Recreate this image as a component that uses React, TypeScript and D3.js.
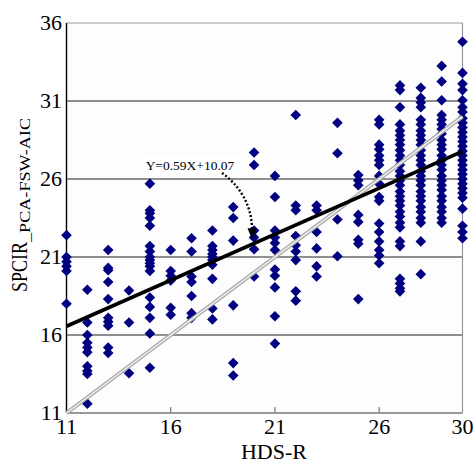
import React, { useRef, useEffect } from "react";
import * as d3 from "d3";

// HDS-R scores (x) and the SPCIR values read for each score
const hdsR = [11, 12, 13, 14, 15, 16, 17, 18, 19, 20, 21, 22, 23, 24, 25, 26, 27, 28, 29, 30];
const spcir = [
  [22.4, 21.0, 20.7, 20.4, 20.1, 18.0],
  [18.9, 16.8, 16.0, 15.5, 15.2, 14.9, 14.0, 13.7, 13.5, 11.6],
  [21.45, 20.3, 20.15, 19.4, 18.3, 17.1, 16.85, 16.6, 15.2, 14.85],
  [18.85, 16.8, 13.55],
  [25.7, 24.0, 23.8, 23.5, 23.0, 21.7, 21.35, 21.0, 20.8, 20.6, 20.4, 20.1, 18.4, 17.8, 17.1, 16.1, 13.9],
  [21.45, 20.1, 19.8, 19.5, 17.75, 17.3],
  [22.2, 21.35, 19.75, 19.4, 18.5, 17.4, 17.1],
  [22.7, 21.7, 21.45, 21.2, 21.0, 20.8, 20.5, 19.6, 17.7, 17.0],
  [24.2, 23.5, 22.05, 17.9, 14.2, 13.4],
  [27.7, 26.9, 22.7, 22.25, 21.5, 19.75],
  [26.2, 24.85, 22.7, 22.25, 21.9, 21.45, 20.2, 19.8, 19.05, 17.2, 15.45],
  [30.1, 24.3, 24.0, 22.35, 21.75, 21.35, 20.8, 18.8, 18.2],
  [24.3, 24.0, 22.6, 21.55, 20.4, 19.75],
  [29.6, 27.65, 23.4, 21.05],
  [26.25, 25.9, 25.6, 23.7, 23.25, 22.1, 21.85, 18.3],
  [29.8, 29.5, 28.2, 27.9, 27.5, 27.2, 26.9, 26.2, 25.7, 24.85, 24.6, 23.15, 22.6, 22.0, 21.45, 21.1, 20.6],
  [32.0, 31.7, 30.6, 29.5, 29.1, 28.8, 28.5, 28.2, 27.85, 27.5, 27.2, 26.9, 26.5, 26.2, 25.9, 25.6, 25.2, 24.9, 24.6, 24.3, 23.9, 23.6, 23.2, 22.9, 22.0, 21.7, 19.6, 19.3, 19.0, 18.8],
  [31.85, 31.2, 30.9, 30.6, 29.8, 29.5, 29.1, 28.8, 28.5, 28.2, 27.85, 27.5, 27.2, 26.9, 26.5, 26.2, 25.9, 25.6, 25.2, 24.9, 24.6, 24.2, 23.9, 23.5, 23.2, 22.0, 19.9],
  [33.25, 32.25, 31.05, 30.1, 29.8, 29.5, 29.2, 28.9, 28.5, 28.2, 27.9, 27.5, 27.2, 26.9, 26.6, 26.2, 25.9, 25.6, 25.3, 24.9, 24.6, 24.2, 23.9, 23.5, 23.2],
  [34.8, 32.8, 32.1, 31.7, 31.05, 30.6, 30.3, 29.9, 29.6, 29.3, 29.0, 28.7, 28.4, 28.1, 27.8, 27.5, 27.2, 26.9, 26.6, 26.3, 26.0, 25.7, 25.4, 25.1, 24.8, 24.1, 23.0, 22.6, 22.2],
];

const xTicks = [11, 16, 21, 26, 30];
const yTicks = [11, 16, 21, 26, 31, 36];
const gridValues = [16, 21, 26, 31];

const slope = 0.59;
const intercept = 10.07;
const equationLabel = "Y=0.59X+10.07";

const width = 476;
const height = 464;
const font = "'Liberation Serif', 'Times New Roman', serif";

function App() {
  const svgRef = useRef(null);

  useEffect(() => {
    const svg = d3.select(svgRef.current);
    svg.selectAll("*").remove();

    const x = d3.scaleLinear().domain([11, 30]).range([66.5, 462.5]);
    const y = d3.scaleLinear().domain([11, 36]).range([413, 23]);
    const [x0, x1] = x.range();
    const [yb, yt] = y.range();

    // plot background
    svg
      .append("rect")
      .attr("x", x0)
      .attr("y", yt)
      .attr("width", x1 - x0)
      .attr("height", yb - yt)
      .attr("fill", "#fcfdfc");

    // horizontal grid
    svg
      .append("g")
      .selectAll("line")
      .data(gridValues)
      .join("line")
      .attr("x1", x0)
      .attr("x2", x1)
      .attr("y1", (d) => y(d))
      .attr("y2", (d) => y(d))
      .attr("stroke", "#222")
      .attr("stroke-width", 1.2);

    // frame
    svg.append("line").attr("x1", x0).attr("x2", x1).attr("y1", yt).attr("y2", yt).attr("stroke", "#999").attr("stroke-width", 1.2);
    svg.append("line").attr("x1", x1).attr("x2", x1).attr("y1", yt).attr("y2", yb).attr("stroke", "#999").attr("stroke-width", 1.2);
    svg.append("line").attr("x1", x0).attr("x2", x1).attr("y1", yb).attr("y2", yb).attr("stroke", "#777").attr("stroke-width", 1.4);
    svg.append("line").attr("x1", x0).attr("x2", x0).attr("y1", yt).attr("y2", yb).attr("stroke", "#000").attr("stroke-width", 1.4);

    // inner x ticks
    svg
      .append("g")
      .selectAll("line")
      .data(xTicks.slice(1, -1))
      .join("line")
      .attr("x1", (d) => x(d))
      .attr("x2", (d) => x(d))
      .attr("y1", yb)
      .attr("y2", yb - 6)
      .attr("stroke", "#777")
      .attr("stroke-width", 1.2);

    // points (square diamonds)
    const points = hdsR.flatMap((h, i) => spcir[i].map((v) => ({ x: h, y: v })));
    const diamond = d3.symbol().type(d3.symbolDiamond2).size(72);
    svg
      .append("g")
      .selectAll("path")
      .data(points)
      .join("path")
      .attr("transform", (d) => `translate(${x(d.x)},${y(d.y)})`)
      .attr("d", diamond)
      .attr("fill", "#000080");

    // identity line (double gray)
    const idLine = d3.line().x((d) => x(d)).y((d) => y(d));
    svg.append("path").datum([11, 30]).attr("d", idLine).attr("stroke", "#a8a8a8").attr("stroke-width", 4).attr("fill", "none");
    svg.append("path").datum([11, 30]).attr("d", idLine).attr("stroke", "#f2f2f2").attr("stroke-width", 1.4).attr("fill", "none");

    // regression line
    const regLine = d3.line().x((d) => x(d)).y((d) => y(slope * d + intercept));
    svg.append("path").datum([11, 30]).attr("d", regLine).attr("stroke", "#000").attr("stroke-width", 3.6).attr("fill", "none");

    // equation label
    svg.append("rect").attr("x", 137).attr("y", 157).attr("width", 105).attr("height", 17).attr("fill", "#fff");
    svg
      .append("text")
      .attr("x", 190)
      .attr("y", 169.5)
      .attr("text-anchor", "middle")
      .attr("font-family", font)
      .attr("font-size", 13.5)
      .text(equationLabel);

    // dotted arrow to the line
    const tipX = x(19.9);
    const tipY = y(slope * 19.9 + intercept) - 5;
    svg
      .append("path")
      .attr("d", `M222,173 C238,184 ${tipX},204 ${tipX},${tipY - 10}`)
      .attr("fill", "none")
      .attr("stroke", "#000")
      .attr("stroke-width", 2.4)
      .attr("stroke-dasharray", "2,2");
    svg
      .append("path")
      .attr("d", `M${tipX - 4.5},${tipY - 11} L${tipX + 4.5},${tipY - 11} L${tipX},${tipY} Z`)
      .attr("fill", "#000");

    // tick labels
    svg
      .append("g")
      .selectAll("text")
      .data(yTicks)
      .join("text")
      .attr("x", 62)
      .attr("y", (d) => y(d) + 6.5)
      .attr("text-anchor", "end")
      .attr("font-family", font)
      .attr("font-size", 22)
      .text((d) => d);
    svg
      .append("g")
      .selectAll("text")
      .data(xTicks)
      .join("text")
      .attr("x", (d) => x(d))
      .attr("y", 434)
      .attr("text-anchor", "middle")
      .attr("font-family", font)
      .attr("font-size", 22)
      .text((d) => d);

    // axis titles
    svg
      .append("text")
      .attr("x", 274)
      .attr("y", 459)
      .attr("text-anchor", "middle")
      .attr("font-family", font)
      .attr("font-size", 22)
      .text("HDS-R");
    svg
      .append("text")
      .attr("transform", "translate(27,292) rotate(-90)")
      .attr("font-family", font)
      .attr("font-size", 24)
      .attr("textLength", 50)
      .attr("lengthAdjust", "spacingAndGlyphs")
      .text("SPCIR");
    svg
      .append("text")
      .attr("transform", "translate(30,242) rotate(-90)")
      .attr("font-family", font)
      .attr("font-size", 14)
      .attr("textLength", 124)
      .attr("lengthAdjust", "spacingAndGlyphs")
      .text("_PCA-FSW-AIC");
  }, []);

  return (
    <div style={{ position: "absolute", left: 0, top: 0 }}>
      <svg ref={svgRef} width={width} height={height} style={{ display: "block", background: "#fff" }} />
    </div>
  );
}

export default App;
